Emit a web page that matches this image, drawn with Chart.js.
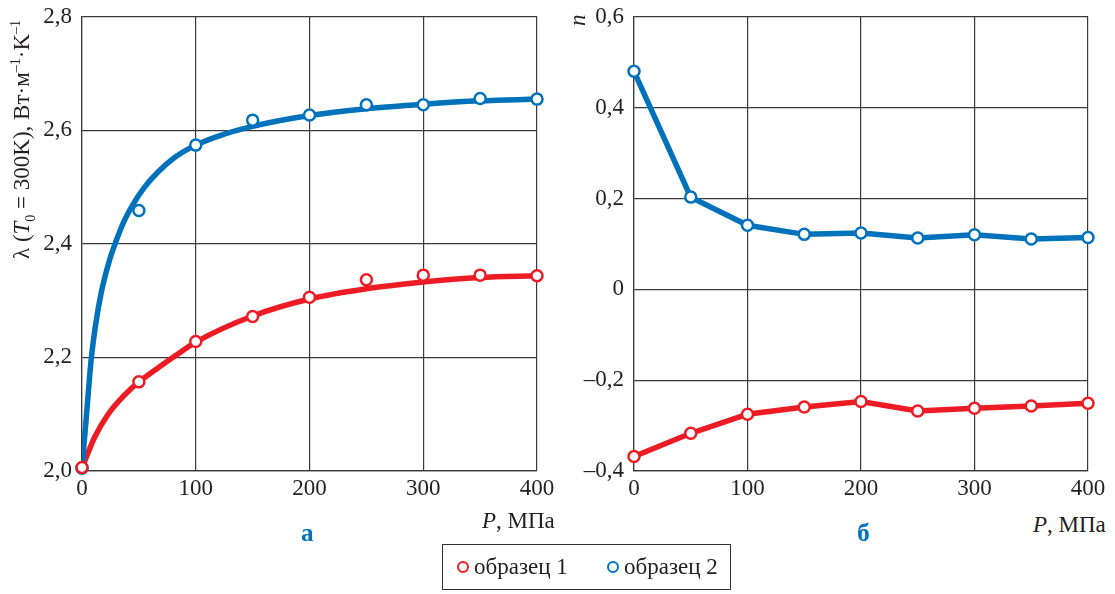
<!DOCTYPE html>
<html lang="ru">
<head>
<meta charset="utf-8">
<script src="https://cdn.jsdelivr.net/npm/chart.js@4.4.1/dist/chart.umd.min.js"></script>
<style>
    body { margin: 0; background: #fff; }
    #page { position: relative; width: 1115px; height: 594px; overflow: hidden; font-family: "Liberation Serif", "Times New Roman", serif; color: #231f20; }
    canvas { position: absolute; top: -7px; }
    .lbl { position: absolute; white-space: nowrap; line-height: 1; }
    .axis-p { font-size: 23px; }
    .panel { font-size: 25px; font-weight: bold; color: #0072bc; }
    .ytitle { font-size: 23px; transform: rotate(-90deg); transform-origin: 0 0; }
    .ytitle sub, .ytitle sup { font-size: 14px; line-height: 0; }
    .legend { position: absolute; left: 442px; top: 544px; width: 289px; height: 46px; border: 1.3px solid #333; box-sizing: border-box; font-size: 23px; }
    .legend .item { position: absolute; top: 9px; }
    .legend .dot { display: inline-block; width: 8px; height: 8px; border-radius: 50%; border: 2.5px solid; background: #fff; margin-right: 5px; vertical-align: 1px; }
</style>
</head>
<body>
<div id="page">
    <canvas id="chartA" width="560" height="517" style="left:0"></canvas>
    <canvas id="chartB" width="555" height="517" style="left:560px"></canvas>

    <div class="lbl ytitle" style="left:10px; top:259px;">λ (<i>T</i><sub>0</sub> = 300K), Вт·м<sup>–1</sup>·K<sup>–1</sup></div>
    <div class="lbl ytitle" style="left:566px; top:26px;"><i>n</i></div>

    <div class="lbl axis-p" style="left:482px; top:509px;"><i>P</i>, МПа</div>
    <div class="lbl axis-p" style="left:1033px; top:513px;"><i>P</i>, МПа</div>

    <div class="lbl panel" style="left:301px; top:520px;">а</div>
    <div class="lbl panel" style="left:857px; top:520px;">б</div>

    <div class="legend">
        <span class="item" style="left:14px;"><span class="dot" style="border-color:#ed1c24"></span>образец 1</span>
        <span class="item" style="left:164px;"><span class="dot" style="border-color:#0072bc"></span>образец 2</span>
    </div>
</div>

<script>
const RED = '#ed1c24';
const BLUE = '#0072bc';
const GRID = '#3a3a3a';

// pressure steps, MPa
const pressure = [0, 50, 100, 150, 200, 250, 300, 350, 400];

// thermal conductivity at T0 = 300K, measured
const lambda1 = [2.006, 2.157, 2.228, 2.272, 2.306, 2.337, 2.345, 2.345, 2.344];
const lambda2 = [2.005, 2.459, 2.574, 2.618, 2.627, 2.645, 2.645, 2.656, 2.655];

// smoothed curves through the measurements
const fitP1 = [0, 11, 23, 38, 50, 67, 82, 100, 150, 200, 250, 300, 350, 400];
const fitLambda1 = [2.005, 2.059, 2.1, 2.135, 2.157, 2.182, 2.203, 2.227, 2.273, 2.303, 2.321, 2.333, 2.341, 2.344];
const fitP2 = [0, 4, 8, 12, 17, 24, 30, 37, 45, 55, 67, 82, 100, 120, 150, 200, 250, 300, 350, 400];
const fitLambda2 = [2.005, 2.1, 2.195, 2.258, 2.315, 2.37, 2.405, 2.44, 2.47, 2.5, 2.527, 2.553, 2.574, 2.59, 2.607, 2.626, 2.638, 2.646, 2.652, 2.655];

// exponent n
const n1 = [-0.368, -0.317, -0.275, -0.259, -0.247, -0.268, -0.262, -0.257, -0.251];
const n2 = [0.480, 0.203, 0.141, 0.121, 0.124, 0.113, 0.120, 0.111, 0.114];

const xTicks = [0, 100, 200, 300, 400];
const lambdaTicks = [2.0, 2.2, 2.4, 2.6, 2.8];
const nTicks = [-0.4, -0.2, 0, 0.2, 0.4, 0.6];

const tickFont = { family: '"Liberation Serif", "Times New Roman", serif', size: 23 };

function pairs(xs, ys) {
    return xs.map((x, i) => ({ x, y: ys[i] }));
}

function fmt(v) {
    if (Math.abs(v) < 1e-9) {
        return '0';
    }
    const s = Math.abs(v).toFixed(1).replace('.', ',');
    return v < 0 ? '–' + s : s;
}

function markers(data, color, order) {
    return {
        data,
        showLine: false,
        pointRadius: 5.5,
        pointBorderWidth: 2.5,
        pointBorderColor: color,
        pointBackgroundColor: '#fff',
        clip: false,
        order,
    };
}

function curve(data, color, order) {
    return {
        data,
        showLine: true,
        borderColor: color,
        borderWidth: 5.5,
        pointRadius: 0,
        cubicInterpolationMode: 'monotone',
        order,
    };
}

// y tick padding also pads the chart area top (half a label + padding),
// so the canvases sit 7px higher than the page
function scales(yTicks, yWidth) {
    return {
        x: {
            type: 'linear',
            min: 0,
            max: 400,
            afterBuildTicks: (s) => { s.ticks = xTicks.map((v) => ({ value: v })); },
            afterFit: (s) => { s.height = 39; },
            ticks: { font: tickFont, color: '#231f20', padding: 4, maxRotation: 0 },
            grid: { color: GRID, lineWidth: 1.2, drawTicks: false },
            border: { color: GRID, width: 1.2 },
        },
        y: {
            type: 'linear',
            min: yTicks[0],
            max: yTicks[yTicks.length - 1],
            afterBuildTicks: (s) => { s.ticks = yTicks.map((v) => ({ value: v })); },
            afterFit: (s) => { s.width = yWidth; },
            ticks: { font: tickFont, color: '#231f20', padding: 10, callback: fmt },
            grid: { color: GRID, lineWidth: 1.2, drawTicks: false },
            border: { color: GRID, width: 1.2 },
        },
    };
}

const common = {
    responsive: false,
    animation: false,
    events: [],
    plugins: { legend: { display: false }, tooltip: { enabled: false } },
};

new Chart(document.getElementById('chartA'), {
    type: 'scatter',
    data: {
        datasets: [
            markers(pairs(pressure, lambda1), RED, 0),
            markers(pairs(pressure, lambda2), BLUE, 1),
            curve(pairs(fitP2, fitLambda2), BLUE, 2),
            curve(pairs(fitP1, fitLambda1), RED, 3),
        ],
    },
    options: {
        ...common,
        layout: { padding: { left: 0, top: 0, right: 23, bottom: 0 } },
        scales: scales(lambdaTicks, 82),
    },
});

new Chart(document.getElementById('chartB'), {
    type: 'scatter',
    data: {
        datasets: [
            {
                ...markers(pairs(pressure, n1), RED, 0),
                showLine: true,
                borderColor: RED,
                borderWidth: 5.5,
                tension: 0,
            },
            {
                ...markers(pairs(pressure, n2), BLUE, 1),
                showLine: true,
                borderColor: BLUE,
                borderWidth: 5.5,
                tension: 0,
            },
        ],
    },
    options: {
        ...common,
        layout: { padding: { left: 0, top: 0, right: 27, bottom: 0 } },
        scales: scales(nTicks, 74),
    },
});
</script>
</body>
</html>
